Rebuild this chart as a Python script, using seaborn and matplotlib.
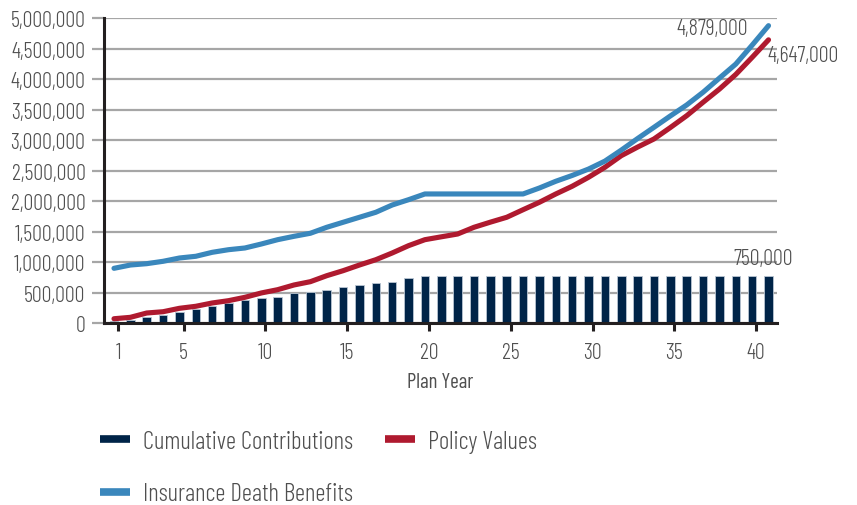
import matplotlib
matplotlib.use("Agg")
import matplotlib.pyplot as plt
import pandas as pd
import seaborn as sns
from matplotlib.lines import Line2D

# ---- data ----
years = list(range(0, 41))
contributions = [38000, 60000, 100000, 140000, 185000, 235000, 290000, 340000, 385000, 413000,
                 429000, 495000, 516000, 549000, 598000, 631000, 658000, 685000, 740000, 775000,
                 775000, 775000, 775000, 775000, 775000, 775000, 775000, 775000, 775000, 775000,
                 775000, 775000, 775000, 775000, 775000, 775000, 775000, 775000, 775000, 775000,
                 775000]
policy_values = [78000, 101000, 172000, 193000, 249000, 282000, 336000, 374000, 429000, 500000,
                 554000, 631000, 685000, 783000, 865000, 958000, 1045000, 1155000, 1275000, 1373000,
                 1420000, 1466000, 1576000, 1660000, 1740000, 1864000, 1986000, 2122000, 2248000, 2395000,
                 2559000, 2749000, 2890000, 3023000, 3210000, 3404000, 3624000, 3840000, 4080000, 4360000,
                 4647000]
death_benefits = [904000, 958000, 980000, 1019000, 1073000, 1101000, 1166000, 1209000, 1237000, 1302000,
                  1373000, 1428000, 1478000, 1576000, 1658000, 1740000, 1822000, 1941000, 2028000, 2122000,
                  2122000, 2122000, 2122000, 2122000, 2122000, 2122000, 2220000, 2330000, 2425000, 2530000,
                  2660000, 2840000, 3030000, 3214000, 3400000, 3580000, 3788000, 4020000, 4250000, 4560000,
                  4879000]
tick_labels = [1, 5, 10, 15, 20, 25, 30, 35, 40]
y_ticks = [0, 500000, 1000000, 1500000, 2000000, 2500000, 3000000, 3500000, 4000000, 4500000, 5000000]
series_names = ["Cumulative Contributions", "Insurance Death Benefits", "Policy Values"]
contrib_label = "750,000"

df = pd.DataFrame({"year": years, "contrib": contributions,
                   "policy": policy_values, "death": death_benefits})

NAVY = "#002448"
RED = "#AF1A2F"
BLUE = "#3A87BC"
GRID = "#A6A6A6"
TEXT = "#4F4F4F"

sns.set_theme(style="white")
plt.rcParams["font.family"] = ["Barlow Condensed", "DejaVu Sans"]
plt.rcParams["font.weight"] = 300

fig = plt.figure(figsize=(8.57, 5.06), dpi=100)
ax = fig.add_axes([0.1208, 0.3587, 0.7855, 0.6032])

sns.barplot(data=df, x="year", y="contrib", native_scale=True, width=0.52,
            color=NAVY, saturation=1, edgecolor="#b9c5d2", linewidth=0.6,
            ax=ax, zorder=2)
sns.lineplot(data=df, x="year", y="policy", color=RED, linewidth=3.7,
             solid_capstyle="round", ax=ax, zorder=3)
sns.lineplot(data=df, x="year", y="death", color=BLUE, linewidth=3.7,
             solid_capstyle="round", ax=ax, zorder=3)

ax.set_xlim(-0.64, 40.5)
ax.set_ylim(0, 5000000)
ax.set_yticks(y_ticks)
ax.set_yticklabels([f"{v:,}" for v in y_ticks])
ax.set_xticks([t - 0.75 for t in tick_labels])
ax.set_xticklabels([str(t) for t in tick_labels])

ax.set_axisbelow(True)
ax.yaxis.grid(True, color=GRID, linewidth=1.6)
ax.xaxis.grid(False)
for s in ["top", "right"]:
    ax.spines[s].set_visible(False)
for s in ["left", "bottom"]:
    ax.spines[s].set_visible(True)
    ax.spines[s].set_color("#231F20")
    ax.spines[s].set_linewidth(2.2)

ax.tick_params(axis="y", which="major", length=9, width=1.6, color=GRID,
               labelsize=16, labelcolor=TEXT, pad=4, left=True)
ax.tick_params(axis="x", which="major", length=6, width=2.2, color="#231F20",
               labelsize=16, labelcolor=TEXT, pad=7.5, bottom=True, direction="out")

ax.set_xlabel("Plan Year", fontsize=15, color=TEXT, labelpad=6.5)
ax.set_ylabel("")

# value annotations
ax.annotate(f"{death_benefits[-1]:,}", xy=(years[-1], death_benefits[-1]),
            xytext=(-14.5, -2), textcoords="offset points", ha="right", va="center",
            fontsize=16, color=TEXT)
ax.annotate(f"{policy_values[-1]:,}", xy=(years[-1], policy_values[-1]),
            xytext=(-1, -11.5), textcoords="offset points", ha="left", va="center",
            fontsize=16, color=TEXT, annotation_clip=False)
ax.annotate(contrib_label, xy=(years[-1], contributions[-1]),
            xytext=(-4, 12.5), textcoords="offset points", ha="center", va="center",
            fontsize=16, color=TEXT, annotation_clip=False)

handles = [Line2D([0], [0], color=NAVY, linewidth=5.5, solid_capstyle="butt"),
           Line2D([0], [0], color=BLUE, linewidth=5.5, solid_capstyle="butt"),
           Line2D([0], [0], color=RED, linewidth=5.5, solid_capstyle="butt")]
fig.legend(handles, series_names, ncol=2, loc="upper left",
           bbox_to_anchor=(0.1167, 0.148), frameon=False, fontsize=18,
           labelcolor=TEXT, handlelength=1.2, handletextpad=0.52,
           columnspacing=1.28, labelspacing=1.17, borderpad=0, borderaxespad=0)

fig.savefig("out.png", dpi=100)
